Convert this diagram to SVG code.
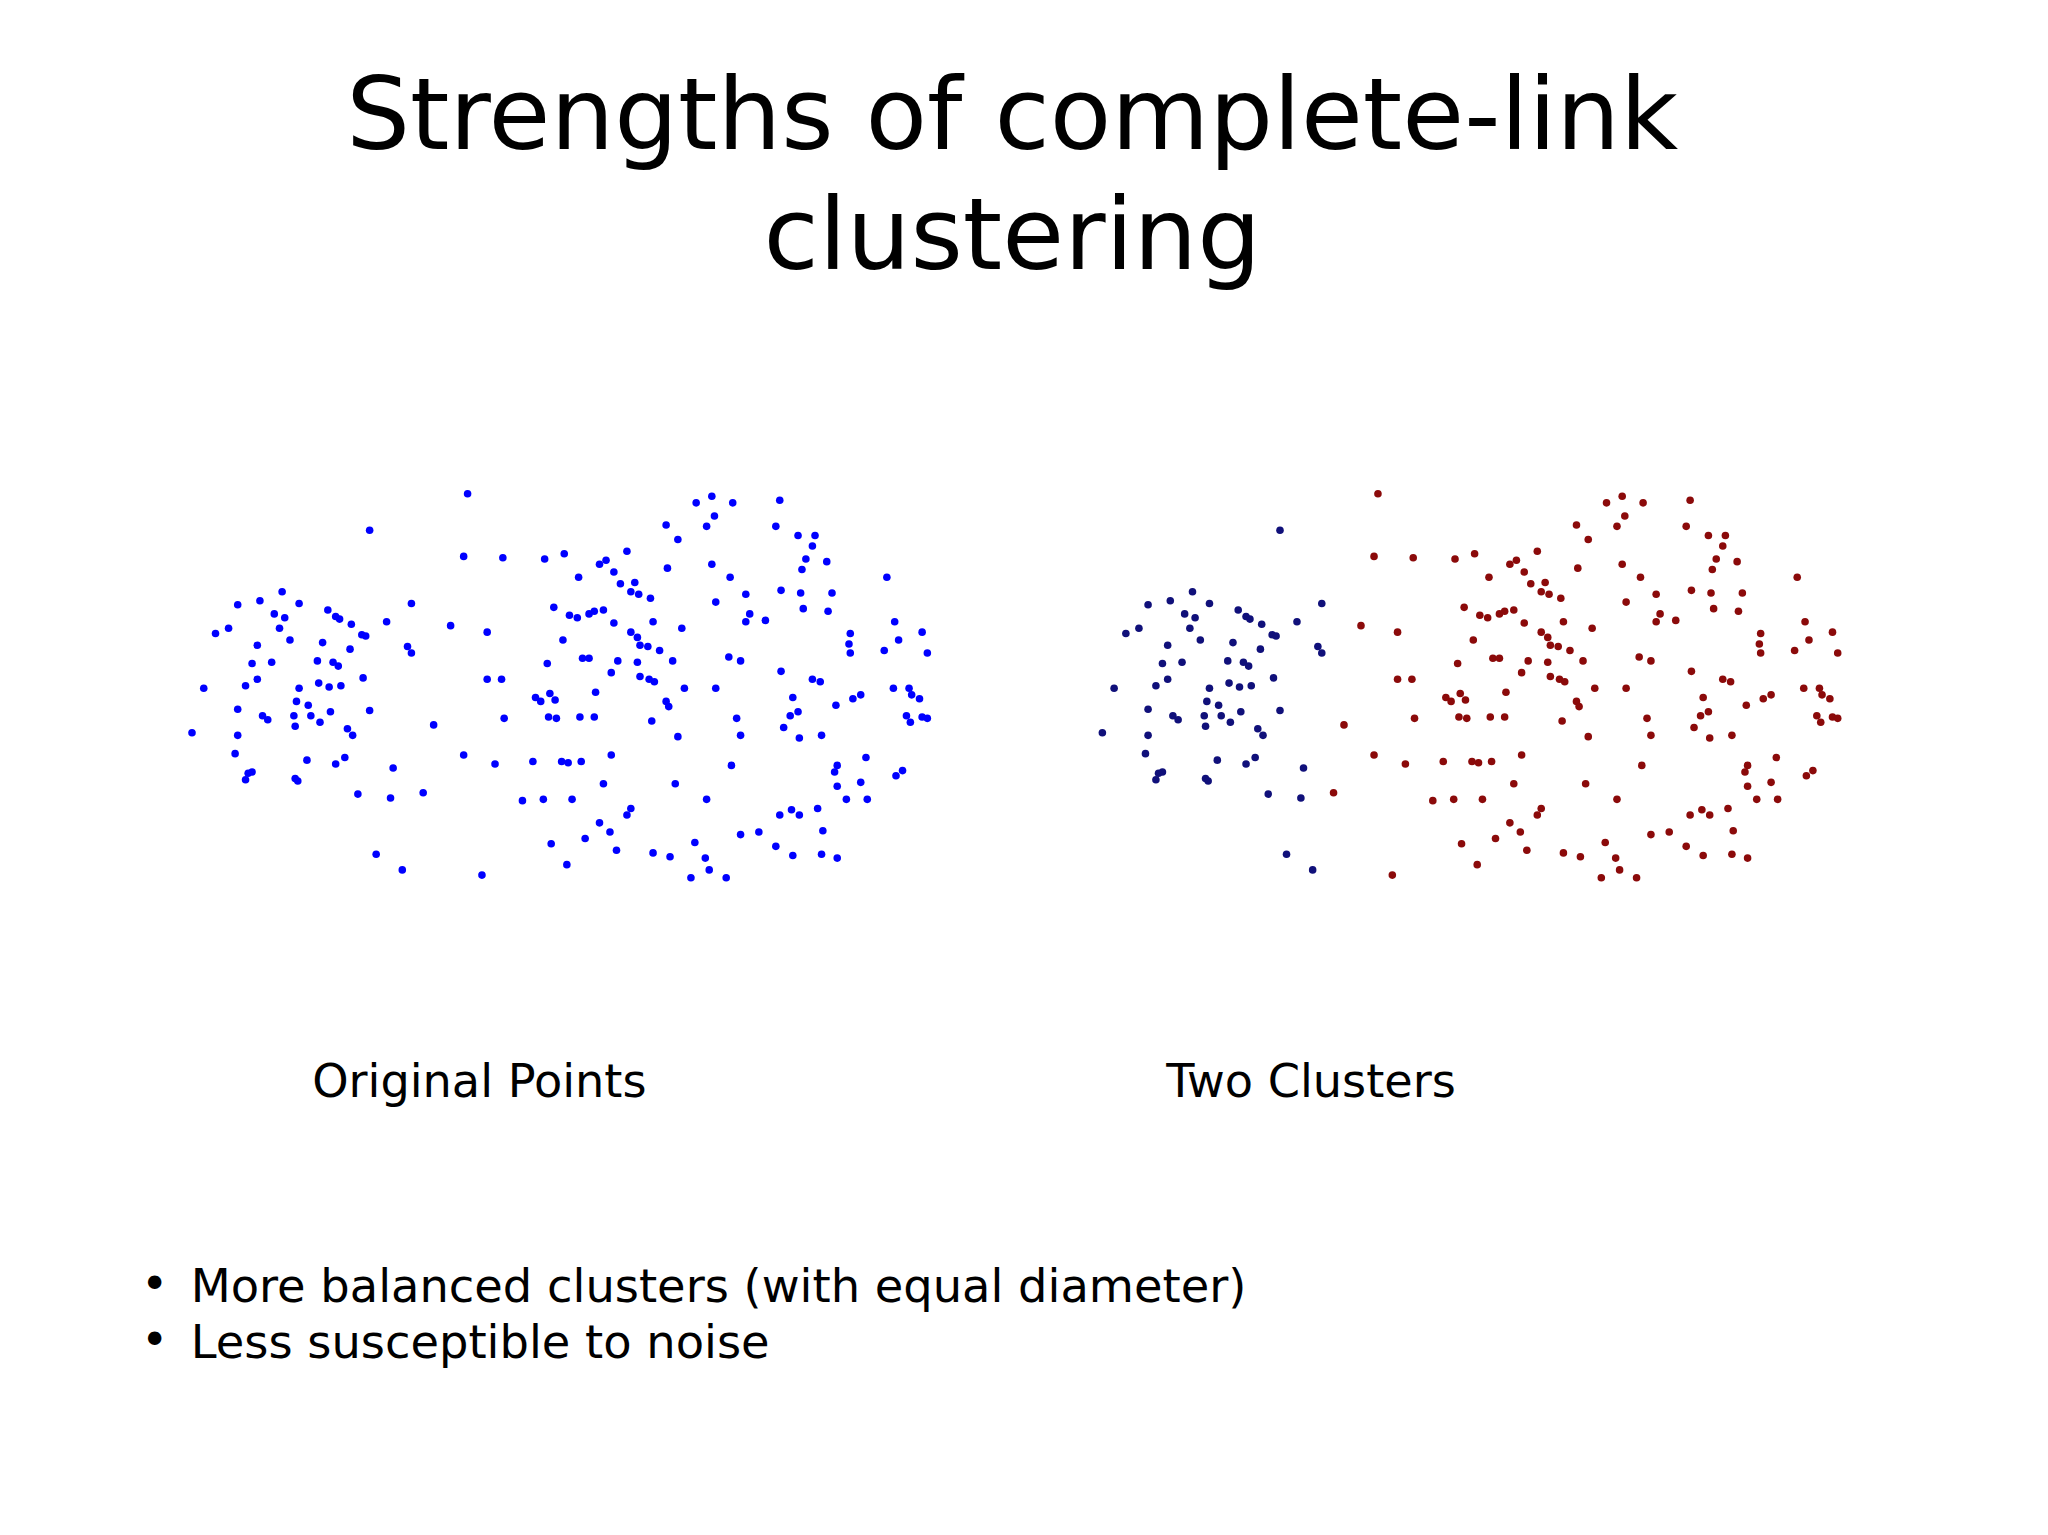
<svg xmlns="http://www.w3.org/2000/svg" xmlns:xlink="http://www.w3.org/1999/xlink" width="2048" height="1535" viewBox="0 0 2048 1535">
<style>
text{font-family:"DejaVu Sans","Liberation Sans",sans-serif;fill:#000}
.t{font-size:77px}
.l{font-size:35.4px}
.b{font-size:35.5px}
circle{r:2.9px}
</style>
<defs>
<g id="cA">
<circle cx="283" cy="406" r="2.9"/><circle cx="216" cy="453" r="2.9"/><circle cx="199" cy="460" r="2.9"/><circle cx="182" cy="463" r="2.9"/><circle cx="229" cy="462" r="2.9"/><circle cx="210" cy="470" r="2.9"/><circle cx="218" cy="473" r="2.9"/><circle cx="251" cy="467" r="2.9"/><circle cx="257" cy="472" r="2.9"/><circle cx="260" cy="474" r="2.9"/><circle cx="269" cy="478" r="2.9"/><circle cx="277" cy="486" r="2.9"/><circle cx="280" cy="487" r="2.9"/><circle cx="165" cy="485" r="2.9"/><circle cx="175" cy="481" r="2.9"/><circle cx="214" cy="481" r="2.9"/><circle cx="222" cy="490" r="2.9"/><circle cx="197" cy="494" r="2.9"/><circle cx="247" cy="492" r="2.9"/><circle cx="268" cy="497" r="2.9"/><circle cx="243" cy="506" r="2.9"/><circle cx="255" cy="507" r="2.9"/><circle cx="259" cy="510" r="2.9"/><circle cx="208" cy="507" r="2.9"/><circle cx="193" cy="508" r="2.9"/><circle cx="312" cy="495" r="2.9"/><circle cx="315" cy="500" r="2.9"/><circle cx="156" cy="527" r="2.9"/><circle cx="188" cy="525" r="2.9"/><circle cx="197" cy="520" r="2.9"/><circle cx="229" cy="527" r="2.9"/><circle cx="244" cy="523" r="2.9"/><circle cx="252" cy="526" r="2.9"/><circle cx="261" cy="525" r="2.9"/><circle cx="278" cy="519" r="2.9"/><circle cx="227" cy="537" r="2.9"/><circle cx="236" cy="540" r="2.9"/><circle cx="182" cy="543" r="2.9"/><circle cx="201" cy="548" r="2.9"/><circle cx="205" cy="551" r="2.9"/><circle cx="225" cy="548" r="2.9"/><circle cx="238" cy="548" r="2.9"/><circle cx="245" cy="553" r="2.9"/><circle cx="253" cy="545" r="2.9"/><circle cx="226" cy="556" r="2.9"/><circle cx="283" cy="544" r="2.9"/><circle cx="147" cy="561" r="2.9"/><circle cx="182" cy="563" r="2.9"/><circle cx="266" cy="558" r="2.9"/><circle cx="270" cy="563" r="2.9"/><circle cx="180" cy="577" r="2.9"/><circle cx="235" cy="582" r="2.9"/><circle cx="257" cy="585" r="2.9"/><circle cx="264" cy="580" r="2.9"/><circle cx="301" cy="588" r="2.9"/><circle cx="190" cy="592" r="2.9"/><circle cx="193" cy="591" r="2.9"/><circle cx="188" cy="597" r="2.9"/><circle cx="226" cy="596" r="2.9"/><circle cx="228" cy="598" r="2.9"/><circle cx="274" cy="608" r="2.9"/><circle cx="299" cy="611" r="2.9"/><circle cx="288" cy="654" r="2.9"/><circle cx="308" cy="666" r="2.9"/><circle cx="315" cy="462" r="2.9"/><circle cx="296" cy="476" r="2.9"/>
</g>
<g id="cB">
<circle cx="358" cy="378" r="2.9"/><circle cx="355" cy="426" r="2.9"/><circle cx="385" cy="427" r="2.9"/><circle cx="417" cy="428" r="2.9"/><circle cx="432" cy="424" r="2.9"/><circle cx="459" cy="432" r="2.9"/><circle cx="464" cy="429" r="2.9"/><circle cx="480" cy="422" r="2.9"/><circle cx="443" cy="442" r="2.9"/><circle cx="470" cy="438" r="2.9"/><circle cx="475" cy="447" r="2.9"/><circle cx="486" cy="446" r="2.9"/><circle cx="483" cy="453" r="2.9"/><circle cx="489" cy="455" r="2.9"/><circle cx="498" cy="458" r="2.9"/><circle cx="510" cy="402" r="2.9"/><circle cx="519" cy="413" r="2.9"/><circle cx="511" cy="435" r="2.9"/><circle cx="533" cy="385" r="2.9"/><circle cx="545" cy="380" r="2.9"/><circle cx="561" cy="385" r="2.9"/><circle cx="547" cy="395" r="2.9"/><circle cx="541" cy="403" r="2.9"/><circle cx="597" cy="383" r="2.9"/><circle cx="594" cy="403" r="2.9"/><circle cx="611" cy="410" r="2.9"/><circle cx="624" cy="410" r="2.9"/><circle cx="622" cy="418" r="2.9"/><circle cx="617" cy="428" r="2.9"/><circle cx="633" cy="430" r="2.9"/><circle cx="614" cy="436" r="2.9"/><circle cx="545" cy="432" r="2.9"/><circle cx="559" cy="442" r="2.9"/><circle cx="571" cy="455" r="2.9"/><circle cx="598" cy="452" r="2.9"/><circle cx="613" cy="454" r="2.9"/><circle cx="637" cy="454" r="2.9"/><circle cx="679" cy="442" r="2.9"/><circle cx="345" cy="479" r="2.9"/><circle cx="373" cy="484" r="2.9"/><circle cx="424" cy="465" r="2.9"/><circle cx="436" cy="471" r="2.9"/><circle cx="442" cy="473" r="2.9"/><circle cx="451" cy="470" r="2.9"/><circle cx="455" cy="468" r="2.9"/><circle cx="462" cy="467" r="2.9"/><circle cx="431" cy="490" r="2.9"/><circle cx="470" cy="477" r="2.9"/><circle cx="483" cy="484" r="2.9"/><circle cx="488" cy="488" r="2.9"/><circle cx="490" cy="494" r="2.9"/><circle cx="500" cy="476" r="2.9"/><circle cx="496" cy="495" r="2.9"/><circle cx="505" cy="498" r="2.9"/><circle cx="522" cy="481" r="2.9"/><circle cx="548" cy="461" r="2.9"/><circle cx="574" cy="470" r="2.9"/><circle cx="571" cy="476" r="2.9"/><circle cx="586" cy="475" r="2.9"/><circle cx="615" cy="466" r="2.9"/><circle cx="634" cy="468" r="2.9"/><circle cx="685" cy="476" r="2.9"/><circle cx="706" cy="484" r="2.9"/><circle cx="651" cy="485" r="2.9"/><circle cx="650" cy="493" r="2.9"/><circle cx="651" cy="500" r="2.9"/><circle cx="688" cy="490" r="2.9"/><circle cx="677" cy="498" r="2.9"/><circle cx="710" cy="500" r="2.9"/><circle cx="419" cy="508" r="2.9"/><circle cx="446" cy="504" r="2.9"/><circle cx="451" cy="504" r="2.9"/><circle cx="473" cy="506" r="2.9"/><circle cx="488" cy="507" r="2.9"/><circle cx="515" cy="506" r="2.9"/><circle cx="558" cy="503" r="2.9"/><circle cx="567" cy="506" r="2.9"/><circle cx="598" cy="514" r="2.9"/><circle cx="373" cy="520" r="2.9"/><circle cx="384" cy="520" r="2.9"/><circle cx="468" cy="515" r="2.9"/><circle cx="490" cy="518" r="2.9"/><circle cx="497" cy="520" r="2.9"/><circle cx="501" cy="522" r="2.9"/><circle cx="524" cy="527" r="2.9"/><circle cx="510" cy="537" r="2.9"/><circle cx="512" cy="541" r="2.9"/><circle cx="456" cy="530" r="2.9"/><circle cx="421" cy="531" r="2.9"/><circle cx="410" cy="534" r="2.9"/><circle cx="414" cy="537" r="2.9"/><circle cx="425" cy="536" r="2.9"/><circle cx="548" cy="527" r="2.9"/><circle cx="622" cy="520" r="2.9"/><circle cx="628" cy="522" r="2.9"/><circle cx="640" cy="540" r="2.9"/><circle cx="607" cy="534" r="2.9"/><circle cx="605" cy="548" r="2.9"/><circle cx="611" cy="545" r="2.9"/><circle cx="684" cy="527" r="2.9"/><circle cx="696" cy="527" r="2.9"/><circle cx="698" cy="532" r="2.9"/><circle cx="704" cy="535" r="2.9"/><circle cx="659" cy="532" r="2.9"/><circle cx="653" cy="535" r="2.9"/><circle cx="386" cy="550" r="2.9"/><circle cx="420" cy="549" r="2.9"/><circle cx="426" cy="550" r="2.9"/><circle cx="444" cy="549" r="2.9"/><circle cx="455" cy="549" r="2.9"/><circle cx="499" cy="552" r="2.9"/><circle cx="564" cy="550" r="2.9"/><circle cx="600" cy="557" r="2.9"/><circle cx="694" cy="548" r="2.9"/><circle cx="706" cy="549" r="2.9"/><circle cx="710" cy="550" r="2.9"/><circle cx="697" cy="553" r="2.9"/><circle cx="332" cy="555" r="2.9"/><circle cx="355" cy="578" r="2.9"/><circle cx="379" cy="585" r="2.9"/><circle cx="408" cy="583" r="2.9"/><circle cx="430" cy="583" r="2.9"/><circle cx="435" cy="584" r="2.9"/><circle cx="445" cy="583" r="2.9"/><circle cx="468" cy="578" r="2.9"/><circle cx="519" cy="564" r="2.9"/><circle cx="567" cy="563" r="2.9"/><circle cx="612" cy="565" r="2.9"/><circle cx="629" cy="563" r="2.9"/><circle cx="663" cy="580" r="2.9"/><circle cx="641" cy="586" r="2.9"/><circle cx="639" cy="591" r="2.9"/><circle cx="641" cy="602" r="2.9"/><circle cx="659" cy="599" r="2.9"/><circle cx="691" cy="590" r="2.9"/><circle cx="686" cy="594" r="2.9"/><circle cx="560" cy="586" r="2.9"/><circle cx="517" cy="600" r="2.9"/><circle cx="400" cy="613" r="2.9"/><circle cx="416" cy="612" r="2.9"/><circle cx="438" cy="612" r="2.9"/><circle cx="462" cy="600" r="2.9"/><circle cx="324" cy="607" r="2.9"/><circle cx="648" cy="612" r="2.9"/><circle cx="664" cy="612" r="2.9"/><circle cx="541" cy="612" r="2.9"/><circle cx="483" cy="619" r="2.9"/><circle cx="480" cy="624" r="2.9"/><circle cx="459" cy="630" r="2.9"/><circle cx="467" cy="637" r="2.9"/><circle cx="422" cy="646" r="2.9"/><circle cx="434" cy="662" r="2.9"/><circle cx="369" cy="670" r="2.9"/><circle cx="472" cy="651" r="2.9"/><circle cx="500" cy="653" r="2.9"/><circle cx="513" cy="656" r="2.9"/><circle cx="529" cy="672" r="2.9"/><circle cx="540" cy="657" r="2.9"/><circle cx="543" cy="666" r="2.9"/><circle cx="556" cy="672" r="2.9"/><circle cx="532" cy="645" r="2.9"/><circle cx="567" cy="639" r="2.9"/><circle cx="581" cy="637" r="2.9"/><circle cx="597" cy="624" r="2.9"/><circle cx="606" cy="620" r="2.9"/><circle cx="612" cy="624" r="2.9"/><circle cx="626" cy="619" r="2.9"/><circle cx="594" cy="648" r="2.9"/><circle cx="607" cy="655" r="2.9"/><circle cx="629" cy="654" r="2.9"/><circle cx="641" cy="657" r="2.9"/><circle cx="630" cy="636" r="2.9"/><circle cx="448" cy="642" r="2.9"/>
</g>
</defs>
<rect width="2048" height="1535" fill="#fff"/>
<g transform="scale(1.30612)">
<g id="title">
<text class="t" x="775" y="114" text-anchor="middle">Strengths of complete-link</text>
<text class="t" x="775" y="206" text-anchor="middle">clustering</text>
</g>
<g id="original-points">
<use xlink:href="#cA" fill="#0000ff"/>
<use xlink:href="#cB" fill="#0000ff"/>
<text class="l" x="239" y="840">Original Points</text>
</g>
<g id="two-clusters">
<use xlink:href="#cA" fill="#10107a" transform="translate(697,0)"/>
<use xlink:href="#cB" fill="#8b0a0a" transform="translate(697,0)"/>
<text class="l" x="893" y="840">Two Clusters</text>
</g>
<g id="bullets">
<text class="b" x="108" y="995">•</text>
<text class="b" x="146" y="997">More balanced clusters (with equal diameter)</text>
<text class="b" x="108" y="1038">•</text>
<text class="b" x="146" y="1040">Less susceptible to noise</text>
</g>
</g>
</svg>
